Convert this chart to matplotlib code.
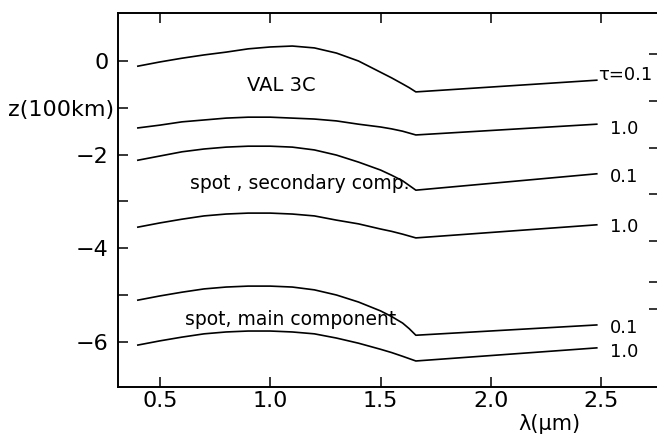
#!/usr/bin/env python3
"""
Height of optical depth levels vs wavelength for VAL 3C and two spot models.
"""

import matplotlib
matplotlib.use("Agg")
import matplotlib.pyplot as plt
from matplotlib.transforms import blended_transform_factory

# wavelength grid (micron) shared by all curves
wavelength = [0.40, 0.5, 0.6, 0.7, 0.8, 0.9, 1.0, 1.1, 1.2, 1.3, 1.4, 1.5, 1.55, 1.6, 1.63, 1.66, 2.48]

# heights z (100 km) of tau = 0.1 and tau = 1.0 levels
val_tau01 = [-0.11, -0.02, 0.06, 0.13, 0.19, 0.26, 0.30, 0.32, 0.28, 0.17, 0.00, -0.24, -0.36, -0.49, -0.57, -0.66, -0.41]
val_tau10 = [-1.43, -1.37, -1.30, -1.26, -1.22, -1.20, -1.20, -1.22, -1.24, -1.28, -1.35, -1.41, -1.45, -1.50, -1.54, -1.58, -1.35]
sec_tau01 = [-2.12, -2.03, -1.94, -1.88, -1.84, -1.82, -1.82, -1.84, -1.90, -2.01, -2.16, -2.33, -2.44, -2.56, -2.66, -2.76, -2.41]
sec_tau10 = [-3.55, -3.46, -3.38, -3.31, -3.27, -3.25, -3.25, -3.27, -3.31, -3.40, -3.48, -3.59, -3.64, -3.70, -3.74, -3.78, -3.50]
main_tau01 = [-5.11, -5.02, -4.94, -4.87, -4.83, -4.81, -4.81, -4.83, -4.89, -5.00, -5.15, -5.34, -5.46, -5.60, -5.72, -5.86, -5.64]
main_tau10 = [-6.07, -5.98, -5.90, -5.83, -5.79, -5.77, -5.77, -5.79, -5.83, -5.92, -6.03, -6.16, -6.23, -6.31, -6.36, -6.41, -6.13]

curves = [val_tau01, val_tau10, sec_tau01, sec_tau10, main_tau01, main_tau10]
end_labels = ["τ=0.1", "1.0", "0.1", "1.0", "0.1", "1.0"]
end_label_z = [-0.30, -1.45, -2.48, -3.55, -5.70, -6.22]

x_ticks = [0.5, 1.0, 1.5, 2.0, 2.5]
x_tick_labels = ["0.5", "1.0", "1.5", "2.0", "2.5"]
y_ticks = [0, -1, -2, -3, -4, -5, -6]
y_tick_labels = ["0", "", "−2", "", "−4", "", "−6"]
right_ticks = [0.15, -0.85, -1.85, -2.85, -3.85, -4.72, -5.3]


def main():
    fig = plt.figure(figsize=(6.57, 4.41), dpi=100)
    ax = fig.add_axes([118 / 657, 1 - 387 / 441, 541 / 657, 374 / 441])

    for z in curves:
        ax.plot(wavelength, z, color="black", lw=1.2)

    # labels at the right end of each curve
    for i, (label, zl) in enumerate(zip(end_labels, end_label_z)):
        xl = 2.485 if i == 0 else 2.54
        ax.text(xl, zl, label, fontsize=13, ha="left", va="center")

    # model names
    ax.text(0.894, -0.53, "VAL 3C", fontsize=14, ha="left", va="center")
    ax.text(0.636, -2.61, "spot , secondary comp.", fontsize=13.5, ha="left", va="center")
    ax.text(0.613, -5.53, "spot, main component", fontsize=13.5, ha="left", va="center")

    ax.set_xlim(0.31, 2.762)
    ax.set_ylim(-6.966, 1.026)

    ax.set_xticks(x_ticks)
    ax.set_xticklabels(x_tick_labels)
    ax.set_yticks(y_ticks)
    ax.set_yticklabels(y_tick_labels)
    ax.tick_params(axis="both", direction="in", length=7.5, width=1.1, labelsize=16)
    ax.tick_params(axis="x", pad=3, top=True)
    ax.tick_params(axis="y", pad=7)

    # extra ticks along the right edge
    ax2 = ax.twinx()
    ax2.set_ylim(ax.get_ylim())
    ax2.set_yticks(right_ticks)
    ax2.set_yticklabels([])
    ax2.tick_params(axis="y", direction="in", length=7.5, width=1.1)

    for a in (ax, ax2):
        for spine in a.spines.values():
            spine.set_linewidth(1.2)

    # axis titles placed as in the original figure
    trans = blended_transform_factory(fig.transFigure, ax.transData)
    ax.text(8 / 657, -1.05, "z(100km)", transform=trans, fontsize=16,
            ha="left", va="center")
    fig.text(549 / 657, 1 - 424 / 441, "λ(μm)", fontsize=15, ha="center", va="center")

    fig.savefig("out.png", dpi=100)


if __name__ == "__main__":
    main()
